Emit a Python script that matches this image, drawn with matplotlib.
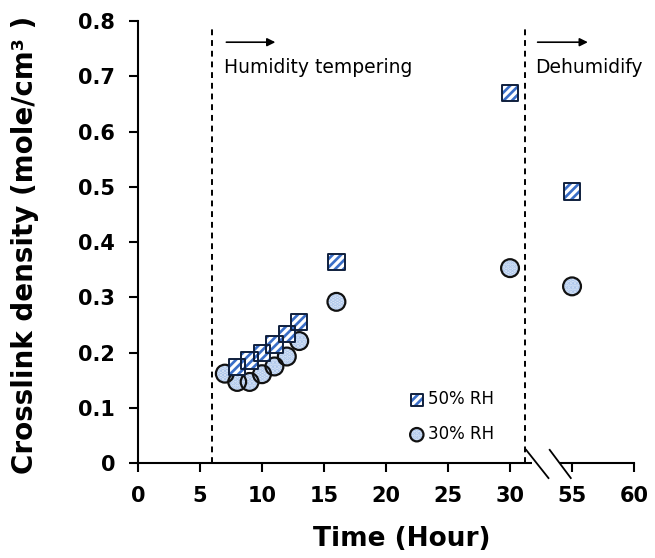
import matplotlib
matplotlib.use("Agg")
import matplotlib.pyplot as plt
from matplotlib.legend_handler import HandlerTuple

# data
t_50 = [8, 9, 10, 11, 12, 13, 16, 30, 55]
rh_50 = [0.174, 0.186, 0.199, 0.215, 0.234, 0.255, 0.364, 0.670, 0.492]
t_30 = [7, 8, 9, 10, 11, 12, 13, 16, 30, 55]
rh_30 = [0.162, 0.147, 0.147, 0.161, 0.175, 0.193, 0.221, 0.292, 0.353, 0.320]

tick_hours = [0, 5, 10, 15, 20, 25, 30, 55, 60]
tick_labels = [str(h) for h in tick_hours]
y_ticks = [0, 0.1, 0.2, 0.3, 0.4, 0.5, 0.6, 0.7, 0.8]
y_labels = ['0', '0.1', '0.2', '0.3', '0.4', '0.5', '0.6', '0.7', '0.8']


# axis is broken between 30 and 55: shift late hours back by 20
def brk(t):
    return [v if v <= 30 else v - 20 for v in t]


plt.rcParams['hatch.linewidth'] = 2.3

fig = plt.figure(figsize=(6.55, 5.58), dpi=100)
ax = fig.add_axes([0.2107, 0.170, 0.7573, 0.792])

x50 = brk(t_50)
x30 = brk(t_30)

# circles: light blue with dots
c1 = ax.scatter(x30, rh_30, s=165, marker='o', facecolor='#dbe7f7',
                edgecolor='#a9c3ea', hatch='....', linewidth=0, zorder=3)
c2 = ax.scatter(x30, rh_30, s=165, marker='o', facecolor='none',
                edgecolor='#111111', linewidth=1.6, zorder=4)
# squares: blue / white diagonal stripes
s1 = ax.scatter(x50, rh_50, s=140, marker='s', facecolor='#3a6ec8',
                edgecolor='white', hatch='////', linewidth=0, zorder=5)
s2 = ax.scatter(x50, rh_50, s=140, marker='s', facecolor='none',
                edgecolor='#0f1f3d', linewidth=1.4, zorder=6)

# phase boundaries
for xv in [6, 31.2]:
    ax.plot([xv, xv], [0, 0.79], color='black', lw=1.4,
            ls=(0, (3, 2.5)), zorder=2, clip_on=False)

ax.annotate('', xy=(11.3, 0.762), xytext=(6.9, 0.762),
            arrowprops=dict(arrowstyle='-|>', color='black', lw=1.2,
                            mutation_scale=12))
ax.text(6.9, 0.716, 'Humidity tempering', family='DejaVu Sans',
        fontsize=13.5, va='center', ha='left')
ax.annotate('', xy=(36.5, 0.762), xytext=(32.0, 0.762),
            arrowprops=dict(arrowstyle='-|>', color='black', lw=1.2,
                            mutation_scale=12))
ax.text(32.0, 0.716, 'Dehumidify', family='DejaVu Sans',
        fontsize=13.5, va='center', ha='left')

# axis break marks
ax.fill_between([31.8, 34.0], -0.004, 0.004, color='white', zorder=7,
                clip_on=False, linewidth=0)
ax.plot([31.3, 33.1], [0.024, -0.027], color='black', lw=1.3,
        clip_on=False, zorder=8)
ax.plot([33.2, 34.9], [0.024, -0.027], color='black', lw=1.3,
        clip_on=False, zorder=8)

ax.set_xlim(0, 40)
ax.set_ylim(0, 0.8)
ax.set_xticks(brk(tick_hours))
ax.set_xticklabels(tick_labels)
ax.set_yticks(y_ticks)
ax.set_yticklabels(y_labels)

for side in ['top', 'right']:
    ax.spines[side].set_visible(False)
for side in ['left', 'bottom']:
    ax.spines[side].set_linewidth(1.5)
ax.tick_params(direction='out', length=6.5, width=1.5, labelsize=15)
ax.tick_params(axis='x', pad=10)
ax.tick_params(axis='y', pad=10)
for lab in ax.get_xticklabels() + ax.get_yticklabels():
    lab.set_family('DejaVu Sans')
    lab.set_fontweight('bold')

ax.set_xlabel('Time (Hour)', family='DejaVu Sans', fontweight='bold',
              fontsize=19)
ax.xaxis.set_label_coords(0.532, -0.142)
ax.set_ylabel('Crosslink density (mole/cm³ )', family='DejaVu Sans',
              fontweight='bold', fontsize=20, va='center')
ax.yaxis.set_label_coords(-0.228, 0.493)

leg = ax.legend(handles=[(s1, s2), (c1, c2)], labels=['50% RH', '30% RH'],
                handler_map={tuple: HandlerTuple(ndivide=1)},
                loc='center left', bbox_to_anchor=(0.515, 0.105),
                frameon=False, markerscale=0.75, handletextpad=0.2,
                handlelength=1.0, labelspacing=1.0,
                prop={'family': 'DejaVu Sans', 'size': 12})

fig.savefig('out.png', dpi=100)
